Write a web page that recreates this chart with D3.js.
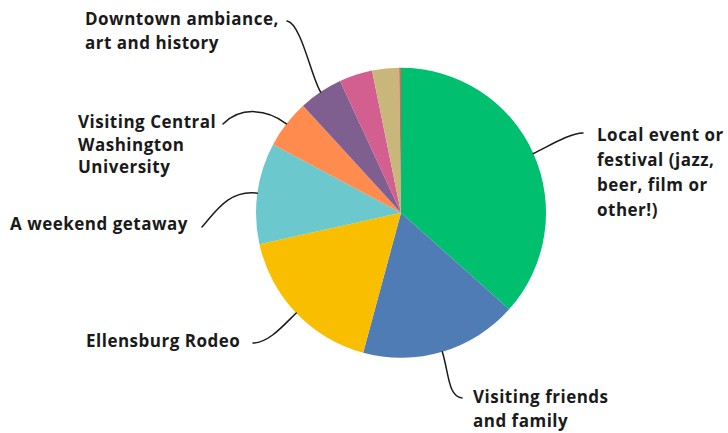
<!DOCTYPE html>
<html>
<head>
<meta charset="utf-8">
<script src="https://cdn.jsdelivr.net/npm/d3@7"></script>
<style>
  html, body { margin: 0; padding: 0; background: #fff; }
  svg { display: block; }
  .lbl { font-family: "Open Sans", "Noto Sans", sans-serif; font-weight: 700; font-size: 17px; letter-spacing: 0.5px; fill: #1a1a1a; }
  .leader { fill: none; stroke: #1a1a1a; stroke-width: 1.5; stroke-linecap: round; }
</style>
</head>
<body>
<svg id="chart" width="728" height="433"></svg>
<script>
// Reasons for visiting (share of responses, %), clockwise from 12 o'clock
const categories = [
  ["Local event or", "festival (jazz,", "beer, film or", "other!)"],
  ["Visiting friends", "and family"],
  ["Ellensburg Rodeo"],
  ["A weekend getaway"],
  ["Visiting Central", "Washington", "University"],
  ["Downtown ambiance,", "art and history"],
  [],
  [],
  []
];
const values = [36.6, 17.6, 17.3, 11.3, 5.4, 4.9, 3.7, 3.0, 0.2];
const colors = ["#00BF6F", "#507CB6", "#F9BE00", "#6BC8CD", "#FF8B4F", "#7F5F90", "#D25F90", "#C9B67B", "#E0605A"];

// Label placement: first-line baseline, line height, leader end and bezier handles
const labelLayout = [
  { x: 597, y: 141, lh: 25, end: [583, 133], c1: 14, c2: [-14, 0] },
  { x: 473, y: 403, lh: 24, end: [462, 398], c1: 24, c2: [-14, -2] },
  { x: 86,  y: 347, lh: 24, end: [253, 343], c1: 16, c2: [16, 0] },
  { x: 10,  y: 230, lh: 24, end: [202, 227], c1: 28, c2: [14, -16] },
  { x: 78,  y: 128, lh: 22.5, end: [223, 124], c1: 24, c2: [18, -18] },
  { x: 85,  y: 25,  lh: 23.5, end: [287, 21], c1: 16, c2: [14, 2] }
];

const cx = 401, cy = 212.7, radius = 145;
const svg = d3.select("#chart");
const g = svg.append("g").attr("transform", `translate(${cx},${cy})`);

const pie = d3.pie().sort(null).value(d => d).startAngle(0).endAngle(2 * Math.PI);
const arcs = pie(values);
const arc = d3.arc().innerRadius(0).outerRadius(radius);

g.selectAll("path.slice")
  .data(arcs)
  .join("path")
  .attr("class", "slice")
  .attr("d", arc)
  .attr("fill", (d, i) => colors[i]);

// Leader lines from each slice's outer edge to its label
arcs.forEach((a, i) => {
  const L = labelLayout[i];
  if (!L) return;
  const mid = (a.startAngle + a.endAngle) / 2;
  const ux = Math.sin(mid), uy = -Math.cos(mid);
  const x0 = cx + radius * ux, y0 = cy + radius * uy;
  const p = d3.path();
  p.moveTo(x0, y0);
  p.bezierCurveTo(
    x0 + L.c1 * ux, y0 + L.c1 * uy,
    L.end[0] + L.c2[0], L.end[1] + L.c2[1],
    L.end[0], L.end[1]
  );
  svg.append("path").attr("class", "leader").attr("d", p.toString());

  const t = svg.append("text").attr("class", "lbl").attr("x", L.x).attr("y", L.y);
  categories[i].forEach((line, k) => {
    t.append("tspan").attr("x", L.x).attr("y", L.y + k * L.lh).text(line);
  });
});
</script>
</body>
</html>
